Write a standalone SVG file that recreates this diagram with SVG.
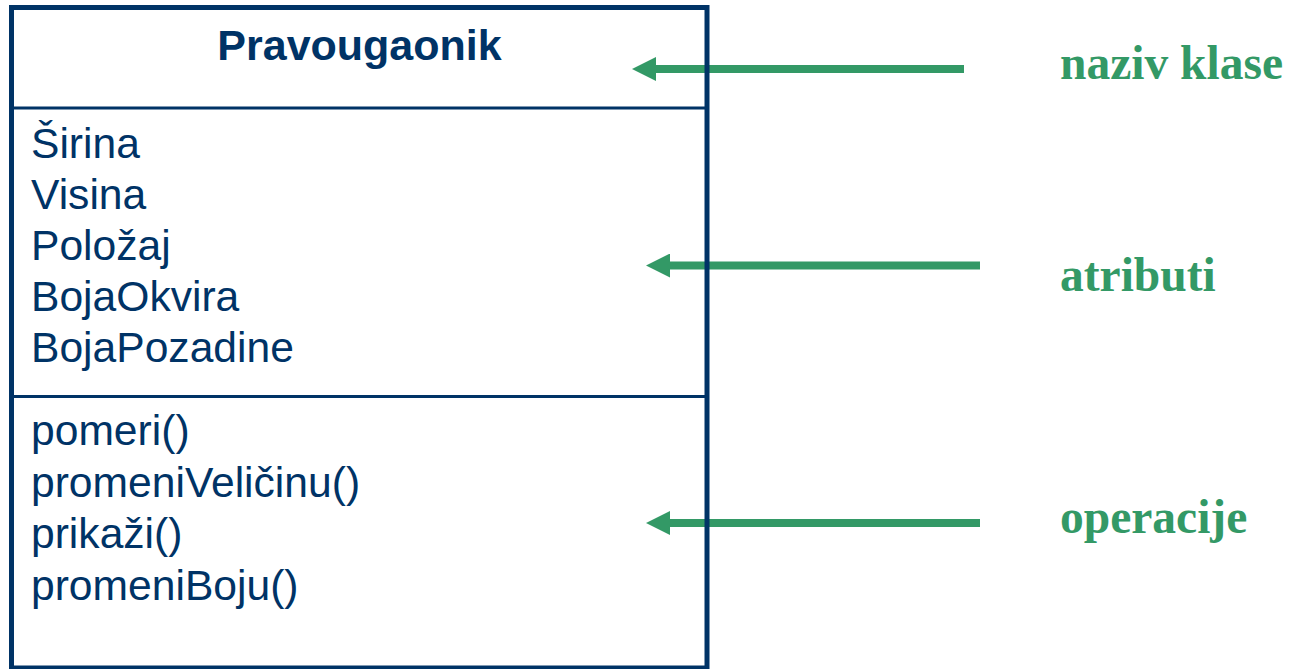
<svg xmlns="http://www.w3.org/2000/svg" width="1291" height="669" viewBox="0 0 1291 669">
<style>
.bg{fill:#ffffff}
.box{fill:none;stroke:#003366;stroke-width:5}
.div{stroke:#003366;stroke-width:3}
.title{font-family:"Liberation Sans",Arial,sans-serif;font-weight:bold;font-size:43px;fill:#003366;text-anchor:middle}
.item{font-family:"Liberation Sans",Arial,sans-serif;font-size:42.6px;fill:#003366}
.lbl{font-family:"Liberation Serif","Times New Roman",serif;font-weight:bold;font-size:47.5px;fill:#339966}
.conn{stroke:#339966;stroke-width:8;fill:none;marker-end:url(#head)}
</style>
<defs>
<marker id="head" markerUnits="userSpaceOnUse" markerWidth="24" markerHeight="24" refX="0" refY="12" orient="auto">
<path d="M0,0 L24,12 L0,24 z" fill="#339966"/>
</marker>
</defs>
<rect class="bg" x="0" y="0" width="1291" height="669"/>
<g id="connectors">
<line class="conn" x1="964" y1="69" x2="656" y2="69"/>
<line class="conn" x1="980" y1="265.5" x2="670" y2="265.5"/>
<line class="conn" x1="980" y1="523" x2="670" y2="523"/>
</g>
<g id="class-pravougaonik">
<rect class="box" x="11.5" y="7.5" width="695.5" height="660.5"/>
<line class="div" x1="11.5" y1="108" x2="707" y2="108"/>
<line class="div" x1="11.5" y1="396.5" x2="707" y2="396.5"/>
<text class="title" x="359.5" y="60">Pravougaonik</text>
<text class="item" x="31" y="158">Širina</text>
<text class="item" x="31" y="209">Visina</text>
<text class="item" x="31" y="260">Položaj</text>
<text class="item" x="31" y="311">BojaOkvira</text>
<text class="item" x="31" y="362">BojaPozadine</text>
<text class="item" x="31" y="445">pomeri()</text>
<text class="item" x="31" y="496.5">promeniVeličinu()</text>
<text class="item" x="31" y="548">prikaži()</text>
<text class="item" x="31" y="599.5">promeniBoju()</text>
</g>
<g id="label-naziv-klase"><text class="lbl" x="1060" y="79">naziv klase</text></g>
<g id="label-atributi"><text class="lbl" x="1060" y="291">atributi</text></g>
<g id="label-operacije"><text class="lbl" x="1060" y="533">operacije</text></g>
</svg>
